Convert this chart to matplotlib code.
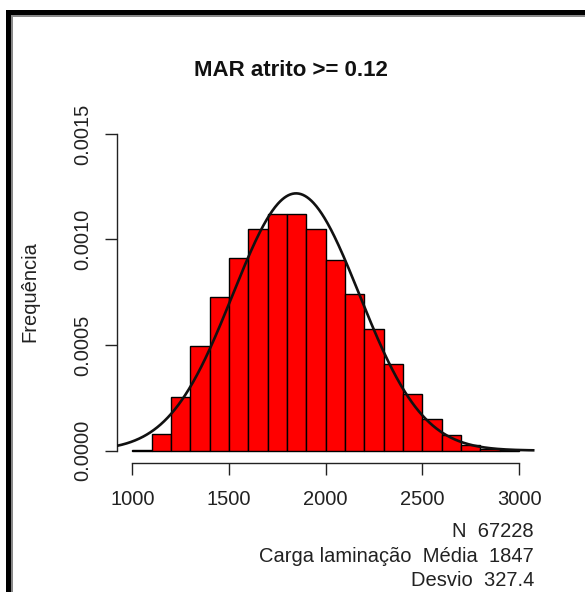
import numpy as np
import matplotlib
matplotlib.use("Agg")
import matplotlib.pyplot as plt
from matplotlib.patches import Rectangle

plt.rcParams['font.family'] = ['Liberation Sans', 'DejaVu Sans']

# ---- data ----
bin_edges = [1000, 1100, 1200, 1300, 1400, 1500, 1600, 1700, 1800, 1900, 2000,
             2100, 2200, 2300, 2400, 2500, 2600, 2700, 2800, 2900, 3000]
densities = [0.000002, 0.000080, 0.000252, 0.000495, 0.000727, 0.000912,
             0.001050, 0.001123, 0.001123, 0.001050, 0.000905, 0.000740,
             0.000574, 0.000410, 0.000268, 0.000148, 0.000073, 0.000026,
             0.000007, 0.000001]
mean_val = 1847
sd_val = 327.4
n_obs = 67228
x_ticks = [1000, 1500, 2000, 2500, 3000]
y_ticks = [0.0, 0.0005, 0.0010, 0.0015]
y_tick_labels = ["0.0000", "0.0005", "0.0010", "0.0015"]
title = "MAR atrito >= 0.12"
ylabel = "Frequência"
xlabel_lines = [f"N  {n_obs}", f"Carga laminação  Média  {mean_val}", f"Desvio  {sd_val}"]

W, H = 585, 592
fig = plt.figure(figsize=(W / 100, H / 100), dpi=100)

# axes geometry (pixels)
left_px, right_px = 116.8, 534.5
top_px, bottom_px = 121.3, 463.2
ax = fig.add_axes([left_px / W, 1 - bottom_px / H, (right_px - left_px) / W, (bottom_px - top_px) / H])
ax.set_xlim(920, 3080)
ax.set_ylim(-0.00006, 0.00156)

edges = np.array(bin_edges)
ax.bar(edges[:-1], densities, width=np.diff(edges), align='edge',
       color='#ff0000', edgecolor='black', linewidth=1.0, zorder=2)

xs = np.linspace(920, 3080, 600)
pdf = np.exp(-0.5 * ((xs - mean_val) / sd_val) ** 2) / (sd_val * np.sqrt(2 * np.pi))
ax.plot(xs, pdf, color='#111111', linewidth=1.9, zorder=3, solid_capstyle='butt')

for s in ['top', 'right']:
    ax.spines[s].set_visible(False)
ax.spines['bottom'].set_bounds(1000, 3000)
ax.spines['left'].set_bounds(0, 0.0015)
for s in ['bottom', 'left']:
    ax.spines[s].set_linewidth(1.0)
    ax.spines[s].set_color('#222222')

ax.set_xticks(x_ticks)
ax.set_xticklabels([str(t) for t in x_ticks])
ax.set_yticks(y_ticks)
ax.set_yticklabels(y_tick_labels, rotation=90, va='center', ha='right')
ax.tick_params(axis='both', length=8.5, width=1.0, color='#222222',
               labelsize=14.5, labelcolor='#222222')
ax.tick_params(axis='x', pad=11)
ax.tick_params(axis='y', pad=9)
ax.patch.set_visible(False)

fig.text(291 / W, 1 - 70 / H, title, ha='center', va='center',
         fontsize=16, fontweight='bold', color='#111111')
fig.text(30 / W, 1 - 292 / H, ylabel, ha='center', va='center',
         rotation=90, fontsize=14.5, color='#222222')

baselines = [537, 561.5, 585.5]
for line, yb in zip(xlabel_lines, baselines):
    fig.text(534 / W, 1 - yb / H, line, ha='right', va='baseline',
             fontsize=14.5, color='#222222')

# outer frame (black + grey inner line)
fig.patches.append(Rectangle((6 / W, 0), 5 / W, 1 - 10 / H, transform=fig.transFigure,
                             facecolor='black', edgecolor='none', zorder=10))
fig.patches.append(Rectangle((11 / W, 0), 2 / W, 1 - 15 / H, transform=fig.transFigure,
                             facecolor='#888888', edgecolor='none', zorder=10))
fig.patches.append(Rectangle((6 / W, 1 - 15 / H), 1 - 6 / W, 5 / H, transform=fig.transFigure,
                             facecolor='black', edgecolor='none', zorder=10))
fig.patches.append(Rectangle((11 / W, 1 - 17 / H), 1 - 11 / W, 2 / H, transform=fig.transFigure,
                             facecolor='#888888', edgecolor='none', zorder=10))

fig.savefig("out.png", dpi=100, facecolor='white')
